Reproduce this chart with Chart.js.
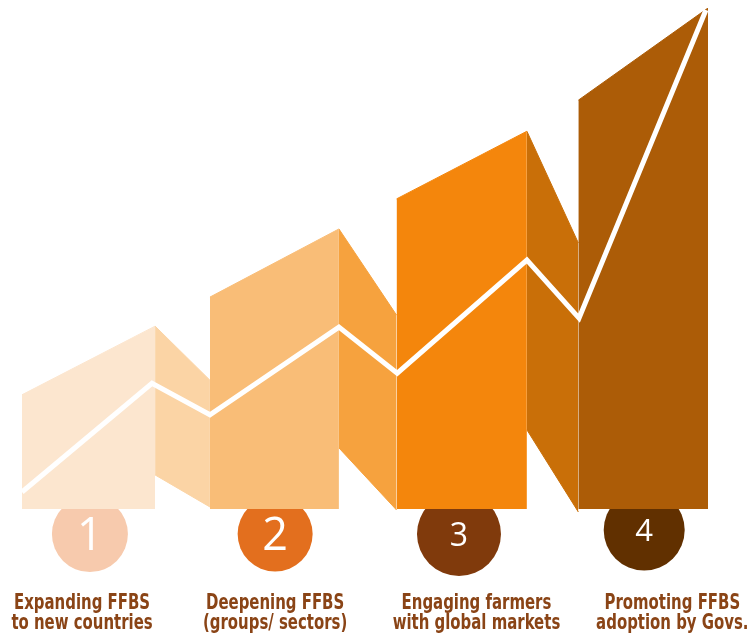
<!DOCTYPE html>
<html>
<head>
<meta charset="utf-8">
<script src="https://cdn.jsdelivr.net/npm/chart.js@4/dist/chart.umd.min.js"></script>
<style>
  html, body { margin: 0; padding: 0; background: #fff; }
  canvas { display: block; }
</style>
</head>
<body>
<canvas id="ffbsChart" width="752" height="636"></canvas>
<script>
// stage data (x: 0-100 progress, y: growth index, 0 = panel base)
var stageNumbers = ['1', '2', '3', '4'];
var stageLabels = [
  ['Expanding FFBS', 'to new countries'],
  ['Deepening FFBS', '(groups/ sectors)'],
  ['Engaging farmers', 'with global markets'],
  ['Promoting FFBS', 'adoption by Govs.']
];

// front panels: top edge from (x0,y0) to (x1,y1), filled down to 0
var frontX = [[0, 19.4], [27.4, 46.2], [54.6, 73.6], [81.1, 100]];
var frontY = [[22.8, 36.5], [42.3, 55.9], [61.9, 75.4], [81.6, 100]];

// folds between panels: top edge and bottom edge
var foldX = [[19.4, 27.4], [46.2, 54.6], [73.6, 81.1]];
var foldTopY = [[36.5, 25.7], [55.9, 38.7], [75.4, 53.1]];
var foldBottomY = [[6.8, 0.4], [12.2, -0.2], [15.8, -0.6]];

// white trend line
var trendX = [0, 18.95, 27.4, 46.2, 54.7, 73.6, 81.2, 99.7];
var trendY = [3.4, 25.1, 18.8, 36.3, 27.1, 49.7, 38.1, 99.6];

// numbered circles and labels
var markerX = [9.9, 36.9, 63.7, 90.7];
var markerY = [-5.0, -5.0, -5.0, -4.2];
var labelX = [8.75, 36.9, 66.25, 94.8];
var labelY = [-19.9, -24.0];

var frontColors = ['#fce6cf', '#f9bd77', '#f4860c', '#ac5c07'];
var foldColors = ['#fbd4a5', '#f6a23e', '#c96f08'];
var markerColors = ['#f7caad', '#e36f1e', '#803a0c', '#613000'];
var markerRadius = [38, 37.5, 42, 40.5];
var numberSizes = [45, 45, 32, 31];

function pts(xs, ys) {
  return xs.map(function(x, i) { return { x: x, y: ys[i] }; });
}

var datasets = [];

// circles go behind the panels
datasets.push({
  data: pts(markerX, markerY),
  showLine: false,
  pointRadius: markerRadius,
  pointBackgroundColor: markerColors,
  pointBorderWidth: 0,
  clip: false,
  order: 20
});

frontX.forEach(function(xs, i) {
  datasets.push({
    data: pts(xs, frontY[i]),
    borderColor: frontColors[i],
    backgroundColor: frontColors[i],
    borderWidth: 1,
    pointRadius: 0,
    fill: { value: 0 },
    order: 10
  });
});

foldX.forEach(function(xs, i) {
  datasets.push({
    data: pts(xs, foldTopY[i]),
    borderColor: foldColors[i],
    backgroundColor: foldColors[i],
    borderWidth: 1,
    pointRadius: 0,
    fill: '+1',
    order: 10
  });
  datasets.push({
    data: pts(xs, foldBottomY[i]),
    borderColor: foldColors[i],
    borderWidth: 1,
    pointRadius: 0,
    fill: false,
    order: 10
  });
});

datasets.push({
  data: pts(trendX, trendY),
  borderColor: '#ffffff',
  borderWidth: 5,
  borderJoinStyle: 'miter',
  pointRadius: 0,
  fill: false,
  clip: false,
  order: 1
});

// draws numbers in the circles and the stage captions
var textPlugin = {
  id: 'stageText',
  afterDatasetsDraw: function(chart) {
    var ctx = chart.ctx;
    var xs = chart.scales.x, ys = chart.scales.y;
    ctx.save();
    ctx.textAlign = 'center';
    ctx.textBaseline = 'alphabetic';
    ctx.fillStyle = '#ffffff';
    stageNumbers.forEach(function(n, i) {
      var size = numberSizes[i];
      ctx.font = size + 'px "Open Sans", Lato, sans-serif';
      ctx.fillText(n, xs.getPixelForValue(markerX[i]), ys.getPixelForValue(markerY[i]) + size * 0.36);
    });
    ctx.fillStyle = '#8a4416';
    ctx.font = 'bold 21px "DejaVu Sans Condensed", sans-serif';
    stageLabels.forEach(function(lines, i) {
      lines.forEach(function(line, j) {
        // condensed look: squeeze text horizontally
        ctx.save();
        ctx.translate(xs.getPixelForValue(labelX[i]), ys.getPixelForValue(labelY[j]));
        ctx.scale(0.79, 1);
        ctx.fillText(line, 0, 0);
        ctx.restore();
      });
    });
    ctx.restore();
  }
};

new Chart(document.getElementById('ffbsChart').getContext('2d'), {
  type: 'line',
  data: { datasets: datasets },
  options: {
    responsive: false,
    animation: false,
    devicePixelRatio: 1,
    layout: { autoPadding: false, padding: { left: 22, right: 44, top: 8, bottom: 1.75 } },
    scales: {
      x: { type: 'linear', min: 0, max: 100, display: false },
      y: { type: 'linear', min: -25, max: 100, display: false }
    },
    plugins: {
      legend: { display: false },
      tooltip: { enabled: false }
    }
  },
  plugins: [textPlugin]
});
</script>
</body>
</html>
